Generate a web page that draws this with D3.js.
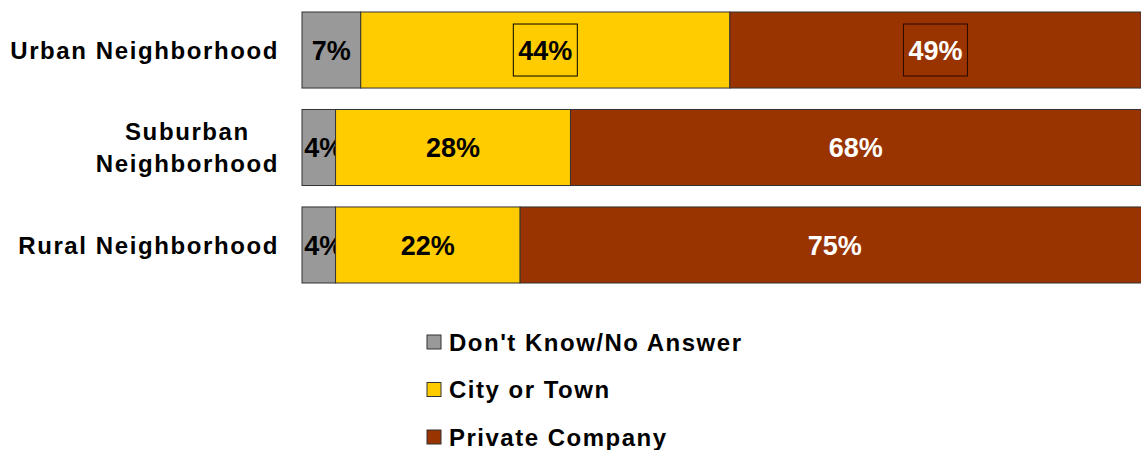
<!DOCTYPE html>
<html><head><meta charset="utf-8">
<script src="https://cdn.jsdelivr.net/npm/d3@7"></script>
<style>body{margin:0;background:#fff}svg{display:block}</style>
</head><body>
<svg id="c" width="1141" height="450"></svg>
<script>
const categories = [["Urban Neighborhood"], ["Suburban", "Neighborhood"], ["Rural Neighborhood"]];
const seriesNames = ["Don't Know/No Answer", "City or Town", "Private Company"];
const dontKnow = [7, 4, 4];
const cityOrTown = [44, 28, 22];
const privateCo = [49, 68, 75];
const boxed = [[false, true, true], [false, false, false], [false, false, false]];
const colors = ["#999999", "#FFCC00", "#993300"];
const textColors = ["#000", "#000", "#fff"];
const FONT = "Liberation Sans, Arial, sans-serif";

const svg = d3.select("#c");
const x = d3.scaleLinear().domain([0, 100]).range([302, 1141]);
const y = d3.scaleBand().domain(d3.range(categories.length)).range([12, 283]).paddingInner(0.22).paddingOuter(0);

const series = [dontKnow, cityOrTown, privateCo];
categories.forEach((cat, i) => {
  let cum = 0;
  const g = svg.append("g");
  series.forEach((s, k) => {
    const v = s[i];
    const x0 = x(cum), x1 = x(cum + v);
    g.append("rect").attr("x", x0).attr("y", y(i)).attr("width", x1 - x0).attr("height", y.bandwidth())
      .attr("fill", colors[k]).attr("stroke", "#333").attr("stroke-width", 1);
    const cx = (x0 + x1) / 2 + (k === 0 && i > 0 ? 5 : 0), cy = y(i) + y.bandwidth() / 2;
    if (boxed[i][k]) {
      g.append("rect").attr("x", cx - 32).attr("y", cy - 26).attr("width", 64).attr("height", 52)
        .attr("fill", "none").attr("stroke", k === 2 ? "#2a0a00" : "#000").attr("stroke-width", 1);
    }
    g.append("text").attr("x", cx).attr("y", cy).attr("dy", "0.36em").attr("text-anchor", "middle")
      .attr("font-family", FONT).attr("font-weight", "bold").attr("font-size", 27)
      .attr("fill", textColors[k]).text(v + "%");
    cum += v;
  });
  const cy = y(i) + y.bandwidth() / 2;
  const t = svg.append("text").attr("text-anchor", "middle")
    .attr("font-family", FONT).attr("font-weight", "bold").attr("font-size", 24)
    .attr("fill", "#000").attr("letter-spacing", 1.6);
  const spans = cat.map((line, j) =>
    t.append("tspan").attr("y", cy + (j - (cat.length - 1) / 2) * 32).attr("dy", "0.36em").text(line));
  const maxW = d3.max(spans, sp => sp.node().getComputedTextLength());
  spans.forEach(sp => sp.attr("x", 279 - maxW / 2));
});

const leg = svg.append("g");
seriesNames.forEach((n, k) => {
  const cy = 342 + k * 47.5;
  leg.append("rect").attr("x", 427).attr("y", cy - 7).attr("width", 14).attr("height", 14)
    .attr("fill", colors[k]).attr("stroke", "#333").attr("stroke-width", 1);
  leg.append("text").attr("x", 449).attr("y", cy).attr("dy", "0.36em")
    .attr("font-family", FONT).attr("font-weight", "bold").attr("font-size", 24)
    .attr("letter-spacing", 1.5).attr("fill", "#000").text(n);
});
</script>
</body></html>
